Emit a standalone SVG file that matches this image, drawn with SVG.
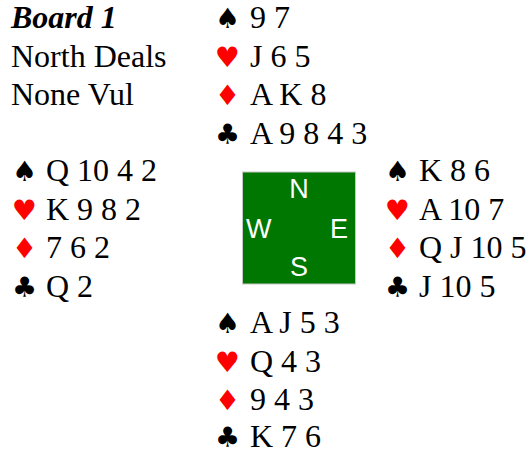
<svg xmlns="http://www.w3.org/2000/svg" width="528" height="453" viewBox="0 0 528 453">
<style>
.t{font-family:"Liberation Serif","Times New Roman",serif;font-size:32px;fill:#000}
.b{font-weight:bold;font-style:italic}
.s{font-family:"DejaVu Sans",sans-serif;font-size:28px}
.k{fill:#000}
.r{fill:#ff0000}
.c{font-family:"Liberation Sans",Arial,sans-serif;font-size:27px;fill:#fff}
</style>
<rect width="528" height="453" fill="#fff"/>
<g id="info">
<text class="t b" x="11" y="28">Board 1</text>
<text class="t" x="11" y="66.5">North Deals</text>
<text class="t" x="11" y="105">None Vul</text>
</g>
<g id="north">
<text class="s k" x="215" y="28">♠</text><text class="t" x="250" y="28">9 7</text>
<text class="s r" x="215" y="66.5">♥</text><text class="t" x="250" y="66.5">J 6 5</text>
<text class="s r" x="215" y="105">♦</text><text class="t" x="250" y="105">A K 8</text>
<text class="s k" x="215" y="143.5">♣</text><text class="t" x="250" y="143.5">A 9 8 4 3</text>
</g>
<g id="west">
<text class="s k" x="12" y="181">♠</text><text class="t" x="46" y="181">Q 10 4 2</text>
<text class="s r" x="12" y="219.5">♥</text><text class="t" x="46" y="219.5">K 9 8 2</text>
<text class="s r" x="12" y="258">♦</text><text class="t" x="46" y="258">7 6 2</text>
<text class="s k" x="12" y="296.5">♣</text><text class="t" x="46" y="296.5">Q 2</text>
</g>
<g id="table">
<rect x="242.5" y="172" width="113" height="112" fill="#007700" stroke="#c8c8c8" stroke-width="1"/>
<text class="c" x="299" y="198" text-anchor="middle">N</text>
<text class="c" x="246" y="237.5">W</text>
<text class="c" x="330" y="237.5">E</text>
<text class="c" x="299" y="276" text-anchor="middle">S</text>
</g>
<g id="east">
<text class="s k" x="385" y="181">♠</text><text class="t" x="419" y="181">K 8 6</text>
<text class="s r" x="385" y="219.5">♥</text><text class="t" x="419" y="219.5">A 10 7</text>
<text class="s r" x="385" y="258">♦</text><text class="t" x="419" y="258">Q J 10 5</text>
<text class="s k" x="385" y="296.5">♣</text><text class="t" x="419" y="296.5">J 10 5</text>
</g>
<g id="south">
<text class="s k" x="215" y="333">♠</text><text class="t" x="250" y="333">A J 5 3</text>
<text class="s r" x="215" y="371.5">♥</text><text class="t" x="250" y="371.5">Q 4 3</text>
<text class="s r" x="215" y="410">♦</text><text class="t" x="250" y="410">9 4 3</text>
<text class="s k" x="215" y="446.5">♣</text><text class="t" x="250" y="446.5">K 7 6</text>
</g>
<g id="connectors"/>
</svg>
